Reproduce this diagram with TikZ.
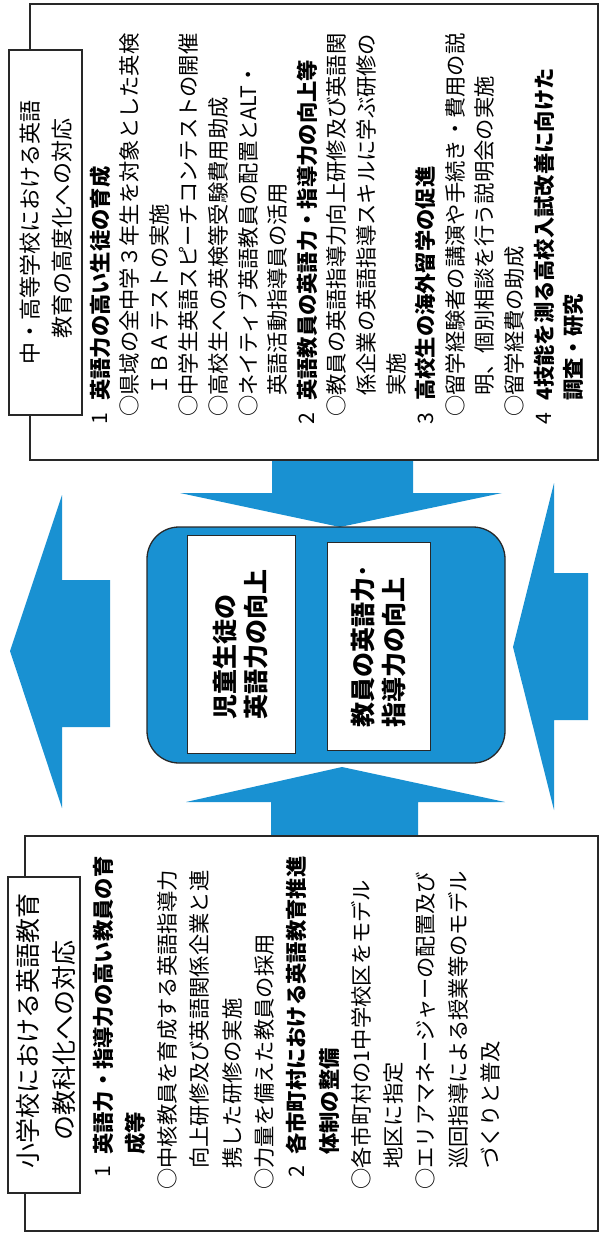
\documentclass[tikz,border=0pt]{standalone}
\usepackage{fontspec}
\newfontfamily\jp{Noto Sans CJK JP}
\definecolor{arrowblue}{RGB}{25,145,210}
\definecolor{inkline}{RGB}{40,40,40}
\begin{document}
\begin{tikzpicture}[x=1pt,y=-1pt,
  bodytxt/.style={rotate=90,anchor=west,inner sep=0pt,font=\jp\fontsize{21.3}{25}\selectfont},
  headtxt/.style={bodytxt,font=\jp\bfseries\fontsize{21.3}{25}\selectfont},
  numtxt/.style={bodytxt},
  titletxtA/.style={rotate=90,anchor=center,inner sep=0pt,font=\jp\fontsize{22}{26}\selectfont},
  titletxtB/.style={rotate=90,anchor=center,inner sep=0pt,font=\jp\fontsize{25}{29}\selectfont},
  centertxt/.style={rotate=90,align=left,inner sep=0pt,font=\jp\bfseries\fontsize{25}{31}\selectfont},
  outerbox/.style={draw=inkline,line width=2pt},
  titlebox/.style={draw=inkline,line width=2.5pt,fill=white},
  whitebox/.style={draw=inkline,line width=1pt,fill=white},
  blockarrow/.style={fill=arrowblue,draw=none},
  ]
\fill[white] (0,0) rectangle (607,1239);
\useasboundingbox (0,0) rectangle (607,1239);

% ---------- block arrows ----------
\fill[blockarrow] (272,461) -- (413,461) -- (413,493) -- (502,493) -- (340,527) -- (180,493) -- (272,493) -- cycle;
\fill[blockarrow] (271,836) -- (418,836) -- (418,802) -- (505,802) -- (342,767) -- (186,802) -- (271,802) -- cycle;
\fill[blockarrow] (110,580) -- (62,580) -- (62,495) -- (10,651) -- (62,808) -- (62,727) -- (110,727) -- cycle;
\fill[blockarrow] (588,573) -- (554,573) -- (554,483) -- (513,647) -- (554,810) -- (554,720) -- (588,720) -- cycle;

% ---------- centre ----------
\draw[fill=arrowblue,draw=inkline,line width=1.3pt,rounded corners=32pt] (147,527) rectangle (505,763);
\draw[whitebox] (187,535) rectangle (295,753);
\draw[whitebox] (327,542) rectangle (430,750);
\node[centertxt] (c1) at (241,644) {児童生徒の\\英語力の向上};
\node[centertxt] (c2) at (379,646) {教員の英語力･\\指導力の向上};

% ---------- upper box ----------
\draw[outerbox] (30,4) rectangle (598,460);
\draw[titlebox] (9,50) rectangle (82,415);
\node[titletxtA] (ut1) at (30,232) {中・高等学校における英語};
\node[titletxtA] (ut2) at (62,228) {教育の高度化への対応};

\node[numtxt]  (un1) at (100.0,425) {1};
\node[headtxt] (u0)  at (100.0,401) {英語力の高い生徒の育成};
\node[bodytxt] (u1)  at (129.6,417) {○県域の全中学３年生を対象とした英検};
\node[bodytxt] (u2)  at (159.2,396) {ＩＢＡテストの実施};
\node[bodytxt] (u3)  at (188.8,417) {○中学生英語スピーチコンテストの開催};
\node[bodytxt] (u4)  at (218.4,417) {○高校生への英検等受験費用助成};
\node[bodytxt] (u5)  at (248.0,417) {○ネイティブ英語教員の配置とALT・};
\node[bodytxt] (u6)  at (277.6,396) {英語活動指導員の活用};
\node[numtxt]  (un2) at (307.2,425) {2};
\node[headtxt] (u7)  at (307.2,401) {英語教員の英語力・指導力の向上等};
\node[bodytxt] (u8)  at (336.8,417) {○教員の英語指導力向上研修及び英語関};
\node[bodytxt] (u9)  at (366.4,396) {係企業の英語指導スキルに学ぶ研修の};
\node[bodytxt] (u10) at (396.0,396) {実施};
\node[numtxt]  (un3) at (425.6,425) {3};
\node[headtxt] (u11) at (425.6,401) {高校生の海外留学の促進};
\node[bodytxt] (u12) at (455.2,417) {○留学経験者の講演や手続き・費用の説};
\node[bodytxt] (u13) at (484.8,396) {明、個別相談を行う説明会の実施};
\node[bodytxt] (u14) at (514.4,417) {○留学経費の助成};
\node[numtxt]  (un4) at (544.0,425) {4};
\node[headtxt] (u15) at (544.0,401) {4技能を測る高校入試改善に向けた};
\node[headtxt] (u16) at (573.6,401) {調査・研究};

% ---------- lower box ----------
\draw[outerbox] (25,836) rectangle (598,1231);
\draw[titlebox] (8,877) rectangle (80,1193);
\node[titletxtB] (lt1) at (28,1031) {小学校における英語教育};
\node[titletxtB] (lt2) at (64,1040) {の教科化への対応};

\node[numtxt]  (ln1) at (103.0,1178) {1};
\node[headtxt] (l0)  at (103.0,1155) {英語力・指導力の高い教員の育};
\node[headtxt] (l1)  at (135.3,1155) {成等};
\node[bodytxt] (l2)  at (167.6,1190) {○中核教員を育成する英語指導力};
\node[bodytxt] (l3)  at (199.9,1169) {向上研修及び英語関係企業と連};
\node[bodytxt] (l4)  at (232.2,1169) {携した研修の実施};
\node[bodytxt] (l5)  at (264.5,1190) {○力量を備えた教員の採用};
\node[numtxt]  (ln2) at (296.8,1178) {2};
\node[headtxt] (l6)  at (296.8,1155) {各市町村における英語教育推進};
\node[headtxt] (l7)  at (329.1,1155) {体制の整備};
\node[bodytxt] (l8)  at (361.4,1190) {○各市町村の1中学校区をモデル};
\node[bodytxt] (l9)  at (393.7,1169) {地区に指定};
\node[bodytxt] (l10) at (426.0,1190) {○エリアマネージャーの配置及び};
\node[bodytxt] (l11) at (458.3,1169) {巡回指導による授業等のモデル};
\node[bodytxt] (l12) at (490.6,1169) {づくりと普及};
\end{tikzpicture}
\end{document}
